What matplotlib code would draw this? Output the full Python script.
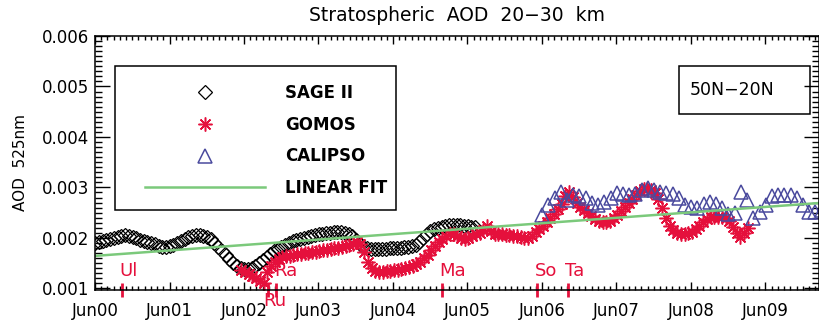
import numpy as np
import matplotlib
matplotlib.use("Agg")
import matplotlib.pyplot as plt
from matplotlib.patches import Rectangle
import matplotlib.transforms as mtransforms
from matplotlib.ticker import MultipleLocator, FormatStrFormatter

# ---------------- data (AOD at 525 nm, 20-30 km, 50N-20N) ----------------
# SAGE II, sampled every 0.05 yr starting June 2000
sage_start, sage_step = 2000.42, 0.05
sage_aod = [1.90, 1.92, 1.94, 1.96, 1.98, 2.00, 2.02, 2.04, 2.06, 2.04, 2.02, 2.00,
            1.96, 1.94, 1.92, 1.90, 1.88, 1.84, 1.82, 1.82, 1.84, 1.86, 1.90, 1.94,
            1.98, 2.02, 2.04, 2.06, 2.06, 2.04, 2.02, 1.98, 1.90, 1.82, 1.74, 1.66,
            1.58, 1.50, 1.45, 1.41, 1.39, 1.39, 1.41, 1.45, 1.50, 1.56, 1.62, 1.68,
            1.74, 1.78, 1.82, 1.86, 1.90, 1.94, 1.96, 1.98, 2.00, 2.02, 2.04, 2.06,
            2.08, 2.08, 2.10, 2.10, 2.12, 2.12, 2.12, 2.10, 2.08, 2.04, 1.96, 1.88,
            1.82, 1.80, 1.78, 1.78, 1.78, 1.78, 1.78, 1.80, 1.80, 1.80, 1.80, 1.82,
            1.82, 1.84, 1.86, 1.92, 2.00, 2.08, 2.14, 2.18, 2.20, 2.22, 2.24, 2.26,
            2.26, 2.26, 2.26, 2.24, 2.24, 2.22, 2.22]

# GOMOS, sampled every 0.05 yr
gomos_start, gomos_step = 2002.38, 0.05
gomos_aod = [1.37, 1.33, 1.29, 1.25, 1.21, 1.15, 1.11, 1.33, 1.45, 1.52, 1.58, 1.62,
             1.64, 1.64, 1.66, 1.68, 1.68, 1.70, 1.70, 1.72, 1.72, 1.74, 1.76, 1.76,
             1.78, 1.80, 1.80, 1.82, 1.84, 1.86, 1.88, 1.92, 1.88, 1.72, 1.52, 1.41,
             1.35, 1.33, 1.33, 1.35, 1.35, 1.37, 1.37, 1.39, 1.41, 1.43, 1.45, 1.49,
             1.52, 1.60, 1.66, 1.76, 1.84, 1.92, 1.98, 2.04, 2.08, 2.08, 2.04, 2.00,
             1.98, 2.00, 2.04, 2.08, 2.10, 2.16, 2.24, 2.14, 2.08, 2.08, 2.08, 2.06,
             2.06, 2.04, 2.04, 2.02, 2.00, 2.00, 2.04, 2.12, 2.18, 2.24, 2.32, 2.40,
             2.48, 2.57, 2.67, 2.83, 2.91, 2.81, 2.69, 2.61, 2.55, 2.50, 2.44, 2.38,
             2.34, 2.32, 2.32, 2.34, 2.40, 2.46, 2.53, 2.61, 2.69, 2.77, 2.85, 2.93,
             2.97, 2.97, 2.95, 2.89, 2.77, 2.59, 2.40, 2.24, 2.16, 2.10, 2.08, 2.08,
             2.10, 2.12, 2.18, 2.24, 2.32, 2.38, 2.42, 2.42, 2.42, 2.42, 2.40, 2.34,
             2.22, 2.10, 2.02, 2.10, 2.20]

# CALIPSO, monthly from June 2006
calipso_start, calipso_step = 2006.42, 1.0 / 12.0
calipso_aod = [2.46, 2.65, 2.79, 2.91, 2.75, 2.85, 2.83, 2.79, 2.69, 2.65, 2.71, 2.79,
               2.89, 2.87, 2.85, 2.87, 2.95, 2.99, 2.95, 2.91, 2.89, 2.87, 2.79, 2.65,
               2.61, 2.59, 2.67, 2.71, 2.67, 2.59, 2.48, 2.50, 2.91, 2.75, 2.40, 2.51,
               2.65, 2.83, 2.85, 2.85, 2.85, 2.79, 2.65, 2.51, 2.51, 2.55]

# linear fit of the combined record: value at June 2000 and slope per year
fit_t0 = 2000.4167
fit_intercept = 1.644e-3
fit_slope = 0.1078e-3

# volcanic eruptions
volc_names = ["Ul", "Ru", "Ra", "Ma", "So", "Ta"]
volc_times = [2000.78, 2002.74, 2002.85, 2005.07, 2006.35, 2006.76]

year_labels = ["Jun00", "Jun01", "Jun02", "Jun03", "Jun04", "Jun05",
               "Jun06", "Jun07", "Jun08", "Jun09"]
series_labels = ["SAGE II", "GOMOS", "CALIPSO", "LINEAR FIT"]

# ---------------- style ----------------
RED = "#E5103C"
BLUE = "#4A4A9E"
GREEN = "#7BC97B"
plt.rcParams["font.family"] = "DejaVu Sans"

fig = plt.figure(figsize=(8.19, 3.20), dpi=100)
ax = fig.add_axes([0.116, 0.094, 0.884, 0.7935])

sage_t = sage_start + sage_step * np.arange(len(sage_aod))
gomos_t = gomos_start + gomos_step * np.arange(len(gomos_aod))
calipso_t = calipso_start + calipso_step * np.arange(len(calipso_aod))

h_sage, = ax.plot(sage_t, np.array(sage_aod) * 1e-3, ls="none", marker="D",
                  ms=7.5, mfc="none", mec="black", mew=0.9)
h_gomos, = ax.plot(gomos_t, np.array(gomos_aod) * 1e-3, ls="none",
                   marker=(8, 2, 0), ms=10, mec=RED, mew=1.1)
h_cal, = ax.plot(calipso_t, np.array(calipso_aod) * 1e-3, ls="none", marker="^",
                 ms=10, mfc="none", mec=BLUE, mew=1.1)

xlim = (2000.4167, 2010.135)
fit_x = np.array(xlim)
h_fit, = ax.plot(fit_x, fit_intercept + fit_slope * (fit_x - fit_t0),
                 color=GREEN, lw=1.8)

ax.set_xlim(*xlim)
ax.set_ylim(0.00097, 0.006)

# axes / ticks
ax.set_xticks([2000 + i + 5 / 12 for i in range(len(year_labels))])
ax.set_xticklabels(year_labels)
ax.xaxis.set_minor_locator(MultipleLocator(1 / 12))
ax.yaxis.set_major_locator(MultipleLocator(0.001))
ax.yaxis.set_minor_locator(MultipleLocator(0.0001))
ax.yaxis.set_major_formatter(FormatStrFormatter("%.3f"))
ax.tick_params(which="both", direction="in", top=True, right=True,
               labelsize=12, width=1.0, color="black")
ax.tick_params(axis="y", which="major", length=11, pad=4)
ax.tick_params(axis="y", which="minor", length=5)
ax.tick_params(axis="x", which="major", length=6, pad=9)
ax.tick_params(axis="x", which="minor", length=3)
for s in ax.spines.values():
    s.set_linewidth(1.1)

ax.set_title("Stratospheric  AOD  20\u221230  km", fontsize=13.5, pad=11)
ax.set_ylabel("AOD  525nm", fontsize=11, labelpad=10)

# eruption markers on the time axis
trans = mtransforms.blended_transform_factory(ax.transData, ax.transAxes)
for name, t in zip(volc_names, volc_times):
    ax.plot([t, t], [-0.028, 0.028], color=RED, lw=2.0, transform=trans,
            clip_on=False, solid_capstyle="butt")
    if name == "Ru":
        ax.text(t - 0.07, -0.045, name, color=RED, fontsize=13,
                transform=trans, ha="left", va="center")
    else:
        ax.text(t - 0.03, 0.075, name, color=RED, fontsize=13,
                transform=trans, ha="left", va="center")

# legend: entries without frame, plus a plain rectangular box
ax.add_patch(Rectangle((0.0276, 0.315), 0.388, 0.567, transform=ax.transAxes,
                       fill=False, edgecolor="black", lw=1.1, zorder=5))
leg = ax.legend([h_sage, h_gomos, h_cal, h_fit], series_labels,
                loc="upper left", bbox_to_anchor=(0.036, 0.906),
                borderaxespad=0, frameon=False, fontsize=12, handlelength=7.2,
                handletextpad=1.2, labelspacing=0.82, borderpad=1.45)
leg.set_zorder(6)
for txt in leg.get_texts():
    txt.set_fontweight("bold")

# latitude band label
ax.add_patch(Rectangle((0.807, 0.693), 0.181, 0.189, transform=ax.transAxes,
                       fill=False, edgecolor="black", lw=1.1, zorder=5))
ax.text(0.822, 0.787, "50N\u221220N", transform=ax.transAxes, fontsize=12.5,
        ha="left", va="center", zorder=6)

fig.savefig("out.png", dpi=100)
